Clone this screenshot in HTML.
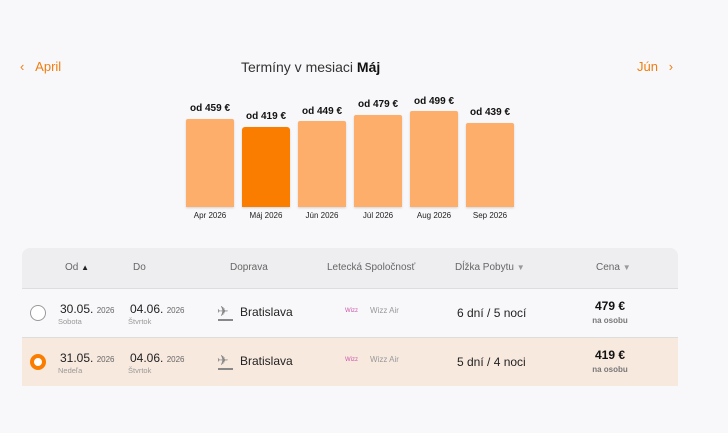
<!DOCTYPE html>
<html><head><style>
body{margin:0;width:728px;height:433px;background:#f8f8fa;font-family:"Liberation Sans",sans-serif;position:relative;overflow:hidden;color:#222}
.a{position:absolute;white-space:nowrap}
.bar{position:absolute;width:48px;background:#fdae6b;bottom:226px;border-radius:2px 2px 0 0;box-shadow:0 1px 2px rgba(0,0,0,.15)}
.bl{position:absolute;width:70px;text-align:center;font-size:10px;font-weight:bold;color:#111}
.ml{position:absolute;width:70px;text-align:center;font-size:8px;color:#222;top:211px}
.h{font-size:10px;color:#666;top:262px}
.d{font-size:12px;color:#222}
.sm{font-size:8px;color:#666}
.dy{font-size:7.5px;color:#999}
</style></head><body>
<div class="a" style="left:20px;top:59px;font-size:13px;color:#f07d10">‹&nbsp;&nbsp;&nbsp;April</div>
<div class="a" style="left:637px;top:59px;font-size:13px;color:#f07d10">Jún&nbsp;&nbsp;&nbsp;›</div>
<div class="a" style="left:241px;top:59px;font-size:14px;color:#333">Termíny v mesiaci <b style="color:#111">Máj</b></div>

<div class="bar" style="left:186px;top:119px;height:88px"></div>
<div class="bar" style="left:242px;top:127px;height:80px;background:#fb7d00;border-radius:3px 3px 0 0"></div>
<div class="bar" style="left:298px;top:121px;height:86px"></div>
<div class="bar" style="left:354px;top:115px;height:92px"></div>
<div class="bar" style="left:410px;top:111px;height:96px"></div>
<div class="bar" style="left:466px;top:123px;height:84px"></div>
<div class="bl" style="left:175px;top:103px">od 459 €</div>
<div class="bl" style="left:231px;top:111px">od 419 €</div>
<div class="bl" style="left:287px;top:106px">od 449 €</div>
<div class="bl" style="left:343px;top:99px">od 479 €</div>
<div class="bl" style="left:399px;top:96px">od 499 €</div>
<div class="bl" style="left:455px;top:107px">od 439 €</div>
<div class="ml" style="left:175px">Apr 2026</div>
<div class="ml" style="left:231px">Máj 2026</div>
<div class="ml" style="left:287px">Jún 2026</div>
<div class="ml" style="left:343px">Júl 2026</div>
<div class="ml" style="left:399px">Aug 2026</div>
<div class="ml" style="left:455px">Sep 2026</div>

<div class="a" style="left:22px;top:248px;width:656px;height:40px;background:#eeeef0;border-radius:8px 8px 0 0;border-bottom:1px solid #ddd"></div>
<div class="a" style="left:22px;top:337px;width:656px;height:1px;background:#ddd"></div>
<div class="a" style="left:22px;top:338px;width:656px;height:48px;background:#f8e9df"></div>
<div class="a h" style="left:65px">Od <span style="font-size:8px;color:#222">▲</span></div>
<div class="a h" style="left:133px">Do</div>
<div class="a h" style="left:230px">Doprava</div>
<div class="a h" style="left:327px">Letecká Spoločnosť</div>
<div class="a h" style="left:455px">Dĺžka Pobytu <span style="font-size:8px;color:#999">▼</span></div>
<div class="a h" style="left:596px">Cena <span style="font-size:8px;color:#999">▼</span></div>

<div class="a" style="left:30px;top:305px;width:14px;height:14px;border:1px solid #999;border-radius:50%;background:#fff"></div>
<div class="a" style="left:30px;top:354px;width:8px;height:8px;border:4px solid #fb7d00;border-radius:50%;background:#fff"></div>

<div class="a d" style="left:60px;top:302px">30.05. <span class="sm">2026</span></div>
<div class="a dy" style="left:58px;top:317px">Sobota</div>
<div class="a d" style="left:130px;top:302px">04.06. <span class="sm">2026</span></div>
<div class="a dy" style="left:128px;top:317px">Štvrtok</div>
<div class="a d" style="left:60px;top:351px">31.05. <span class="sm">2026</span></div>
<div class="a dy" style="left:58px;top:366px">Nedeľa</div>
<div class="a d" style="left:130px;top:351px">04.06. <span class="sm">2026</span></div>
<div class="a dy" style="left:128px;top:366px">Štvrtok</div>

<div class="a" style="left:217px;top:303px;font-size:14px;color:#888">✈</div>
<div class="a" style="left:218px;top:319px;width:15px;height:2px;background:#888"></div>
<div class="a d" style="left:240px;top:305px">Bratislava</div>
<div class="a" style="left:217px;top:352px;font-size:14px;color:#888">✈</div>
<div class="a" style="left:218px;top:368px;width:15px;height:2px;background:#888"></div>
<div class="a d" style="left:240px;top:354px">Bratislava</div>

<div class="a" style="left:345px;top:308px;font-size:6px;color:#c5a">Wizz</div>
<div class="a" style="left:370px;top:306px;font-size:8px;color:#999">Wizz Air</div>
<div class="a" style="left:345px;top:357px;font-size:6px;color:#c5a">Wizz</div>
<div class="a" style="left:370px;top:355px;font-size:8px;color:#999">Wizz Air</div>

<div class="a d" style="left:457px;top:306px">6 dní / 5 nocí</div>
<div class="a d" style="left:457px;top:355px">5 dní / 4 noci</div>

<div class="a" style="left:580px;top:299px;width:60px;text-align:center;font-size:12px;font-weight:bold;color:#111">479 €</div>
<div class="a" style="left:580px;top:316px;width:60px;text-align:center;font-size:8px;color:#777;font-weight:bold">na osobu</div>
<div class="a" style="left:580px;top:348px;width:60px;text-align:center;font-size:12px;font-weight:bold;color:#111">419 €</div>
<div class="a" style="left:580px;top:365px;width:60px;text-align:center;font-size:8px;color:#777;font-weight:bold">na osobu</div>
</body></html>
